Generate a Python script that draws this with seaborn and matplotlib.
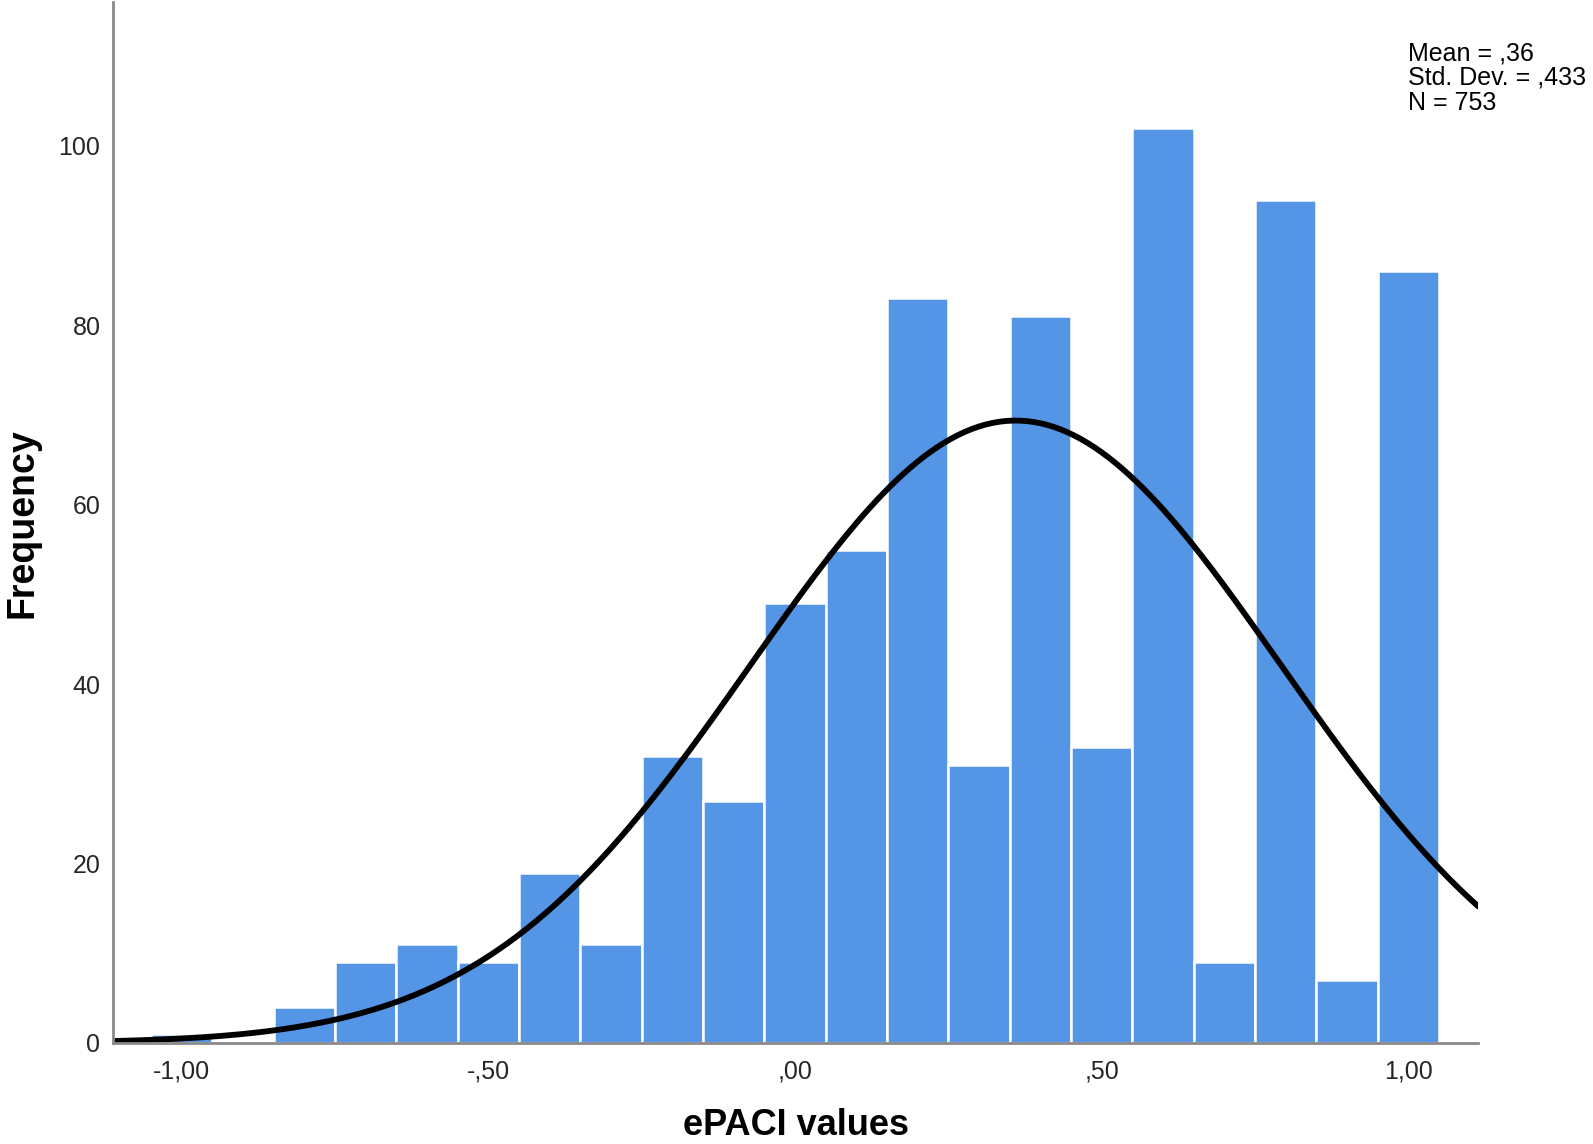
import numpy as np
import pandas as pd
import matplotlib
matplotlib.use("Agg")
import matplotlib.pyplot as plt
import seaborn as sns

# Data
bin_centers = [-1.0, -0.9, -0.8, -0.7, -0.6, -0.5, -0.4, -0.3, -0.2, -0.1,
               0.0, 0.1, 0.2, 0.3, 0.4, 0.5, 0.6, 0.7, 0.8, 0.9, 1.0]
counts = [1, 0, 4, 9, 11, 9, 19, 11, 32, 27,
          49, 55, 83, 31, 81, 33, 102, 9, 94, 7, 86]
x_ticks = [-1.0, -0.5, 0.0, 0.5, 1.0]
x_tick_labels = ["-1,00", "-,50", ",00", ",50", "1,00"]
y_ticks = [0, 20, 40, 60, 80, 100]
y_tick_labels = ["0", "20", "40", "60", "80", "100"]
mean_val = 0.36
sd_val = 0.433
n_val = 753
bin_width = 0.1

sns.set_theme(style="white")
plt.rcParams["font.family"] = ["Liberation Sans", "DejaVu Sans"]

fig = plt.figure(figsize=(15.93, 11.44), dpi=100)
ax = fig.add_axes([0.0709, 0.0883, 0.857, 0.9097])

df = pd.DataFrame({"value": bin_centers, "count": counts})
edges = [c - bin_width / 2 for c in bin_centers] + [bin_centers[-1] + bin_width / 2]
sns.histplot(data=df, x="value", weights="count", bins=edges, ax=ax,
             color="#5595E5", alpha=1.0, edgecolor="white", linewidth=1.8)

xlim = (-1.112, 1.114)
xs = np.linspace(xlim[0], xlim[1], 400)
ys = n_val * bin_width / (sd_val * np.sqrt(2 * np.pi)) * np.exp(-0.5 * ((xs - mean_val) / sd_val) ** 2)
sns.lineplot(x=xs, y=ys, ax=ax, color="black", linewidth=4.2)

ax.set_xlim(*xlim)
ax.set_ylim(0, 116)
ax.set_xticks(x_ticks)
ax.set_xticklabels(x_tick_labels, fontsize=18)
ax.set_yticks(y_ticks)
ax.set_yticklabels(y_tick_labels, fontsize=18)
ax.tick_params(axis="x", length=0, pad=12)
ax.tick_params(axis="y", length=0, pad=9)

for side in ["top", "right"]:
    ax.spines[side].set_visible(False)
for side in ["left", "bottom"]:
    ax.spines[side].set_color("#8a8a8a")
    ax.spines[side].set_linewidth(2)

ax.set_xlabel("ePACI values", fontsize=26, fontweight="bold", color="black")
ax.set_ylabel("Frequency", fontsize=27, fontweight="bold", color="black")
ax.xaxis.set_label_coords(0.5, -0.0880)
ax.xaxis.label.set_va("baseline")
ax.yaxis.set_label_coords(-0.0534, 0.5)

fig.text(1408 / 1593, 1 - 41 / 1144,
         "Mean = ,36\nStd. Dev. = ,433\nN = 753",
         fontsize=18, va="top", ha="left", linespacing=1.05, color="black")

fig.savefig("out.png", dpi=100)
